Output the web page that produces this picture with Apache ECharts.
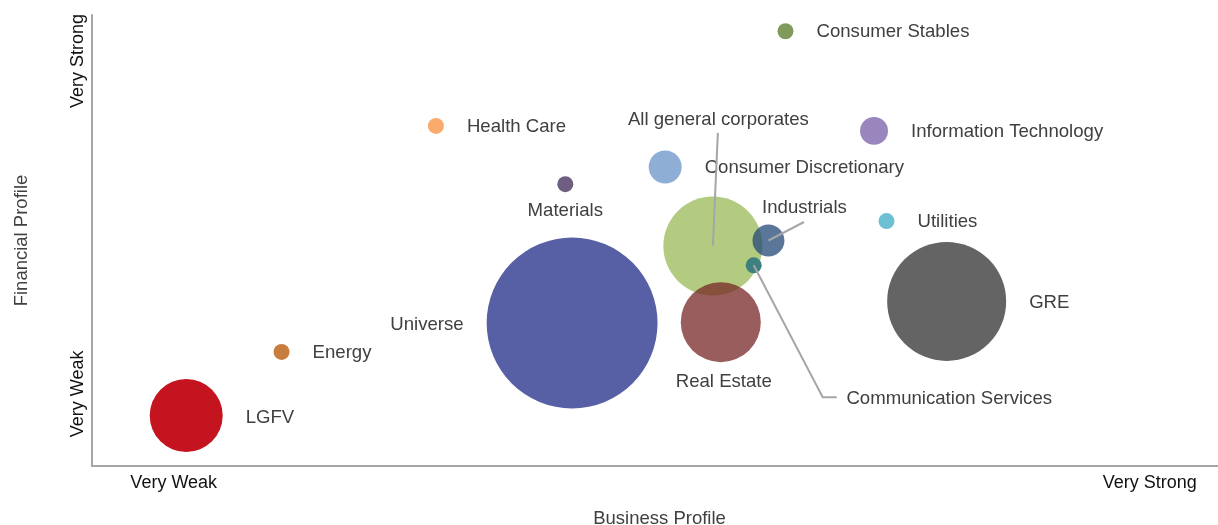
<!DOCTYPE html>
<html>
<head>
<meta charset="utf-8">
<script src="https://cdn.jsdelivr.net/npm/echarts@6/dist/echarts.min.js"></script>
<style>
html, body { margin: 0; padding: 0; background: #fff; }
#main { width: 1218px; height: 525px; }
</style>
</head>
<body>
<div id="main"></div>
<script>
// sectors, drawn in this order (later ones sit on top)
var names = ['Consumer Stables', 'Health Care', 'Information Technology', 'Consumer Discretionary',
    'Materials', 'Universe', 'GRE', 'All general corporates', 'Real Estate', 'Industrials',
    'Communication Services', 'Utilities', 'Energy', 'LGFV'];
var business = [61.1, 30.3, 68.9, 50.5, 41.7, 42.3, 75.3, 54.7, 55.4, 59.6, 58.3, 70.0, 16.7, 8.3];
var financial = [96.4, 75.4, 74.3, 66.3, 62.5, 31.7, 36.5, 48.8, 31.9, 50.0, 44.5, 54.3, 25.3, 11.2];
var weight = [2.56, 2.56, 7.8, 10.9, 2.56, 292, 141.6, 98, 64, 10.2, 2.56, 2.56, 2.56, 53.3];

var xTickValues = [7.2, 93.2];
var xTickLabels = ['Very Weak', 'Very Strong'];
var yTickValues = [16, 89.8];
var yTickLabels = ['Very Weak', 'Very Strong'];

var colors = {
    'Consumer Stables': '#7f9a5b',
    'Health Care': '#f9aa6c',
    'Information Technology': '#9b85bd',
    'Consumer Discretionary': '#8faed6',
    'Materials': '#6e5e80',
    'Universe': '#5860a5',
    'GRE': '#646464',
    'All general corporates': '#b3cb80',
    'Real Estate': 'rgba(118,39,38,0.75)',
    'Industrials': 'rgba(35,72,119,0.75)',
    'Communication Services': '#3c8080',
    'Utilities': '#6dbfd3',
    'Energy': '#c87d3e',
    'LGFV': '#c4141f'
};

var FONT = '"Liberation Sans", Arial, sans-serif';
var labelBase = {
    show: true, formatter: '{b}', fontFamily: FONT, fontSize: 18.6,
    color: '#404040', textBorderWidth: 0
};

// label placement per sector
var labelPlace = {
    'Universe': { position: 'left', distance: 23, offset: [0, 2] },
    'LGFV': { position: 'right', distance: 23, offset: [0, 2] },
    'Materials': { position: 'bottom', distance: 9 },
    'Real Estate': { position: 'bottom', distance: 10, offset: [3, 0] },
    'All general corporates': { position: 'inside', offset: [5.5, -126] },
    'Industrials': { position: 'inside', offset: [36, -32.5] },
    'Communication Services': { position: 'inside', offset: [195.5, 133.5] }
};

// leader lines, pixel offsets from the bubble centre
var leaders = {
    'All general corporates': [[0, 0], [5, -113]],
    'Industrials': [[0, 0], [35.5, -18.5]],
    'Communication Services': [[0, 0], [69, 132], [83, 132]]
};

var bubbleData = names.map(function (n, i) {
    var lab = Object.assign({}, labelBase,
        labelPlace[n] || { position: 'right', distance: 23, offset: [0, 1] });
    return {
        name: n,
        value: [business[i], financial[i], weight[i]],
        itemStyle: { color: colors[n], opacity: 1 },
        label: lab
    };
});

var leaderData = [];
names.forEach(function (n, i) {
    if (leaders[n]) leaderData.push({ name: n, value: [business[i], financial[i]] });
});

var myChart = echarts.init(document.getElementById('main'));

option = {
    animation: false,
    grid: {
        left: 92,
        right: -9,
        top: 15,
        bottom: 59,
        containLabel: false,
        outerBoundsMode: 'none'
    },
    xAxis: {
        type: 'value',
        min: 0,
        max: 100,
        name: 'Business Profile',
        nameLocation: 'middle',
        nameGap: 43,
        nameTextStyle: { fontFamily: FONT, fontSize: 18.5, color: '#404040' },
        axisLine: { show: true, lineStyle: { color: '#a6a6a6', width: 2 } },
        axisTick: { show: false },
        splitLine: { show: false },
        axisLabel: {
            customValues: xTickValues,
            margin: 8,
            fontFamily: FONT,
            fontSize: 18,
            color: '#111',
            formatter: function (v) {
                var i = xTickValues.indexOf(v);
                return i >= 0 ? xTickLabels[i] : '';
            }
        }
    },
    yAxis: {
        type: 'value',
        min: 0,
        max: 100,
        name: 'Financial Profile',
        nameLocation: 'middle',
        nameGap: 61,
        nameTextStyle: { fontFamily: FONT, fontSize: 18.5, color: '#404040' },
        axisLine: { show: true, lineStyle: { color: '#a6a6a6', width: 2 } },
        axisTick: { show: false },
        splitLine: { show: false },
        axisLabel: {
            customValues: yTickValues,
            rotate: 90,
            margin: 5,
            fontFamily: FONT,
            fontSize: 18,
            color: '#111',
            formatter: function (v) {
                var i = yTickValues.indexOf(v);
                return i >= 0 ? yTickLabels[i] : '';
            }
        }
    },
    series: [
        {
            type: 'scatter',
            data: bubbleData,
            symbolSize: function (val) {
                return Math.sqrt(val[2]) * 10;
            },
            emphasis: { disabled: true }
        },
        {
            type: 'custom',
            data: leaderData,
            z: 5,
            silent: true,
            renderItem: function (params, api) {
                var c = api.coord([api.value(0), api.value(1)]);
                var pts = leaders[leaderData[params.dataIndex].name].map(function (p) {
                    return [c[0] + p[0], c[1] + p[1]];
                });
                return {
                    type: 'polyline',
                    shape: { points: pts },
                    style: { stroke: '#a6a6a6', lineWidth: 2, fill: null }
                };
            }
        }
    ]
};

myChart.setOption(option);
</script>
</body>
</html>
